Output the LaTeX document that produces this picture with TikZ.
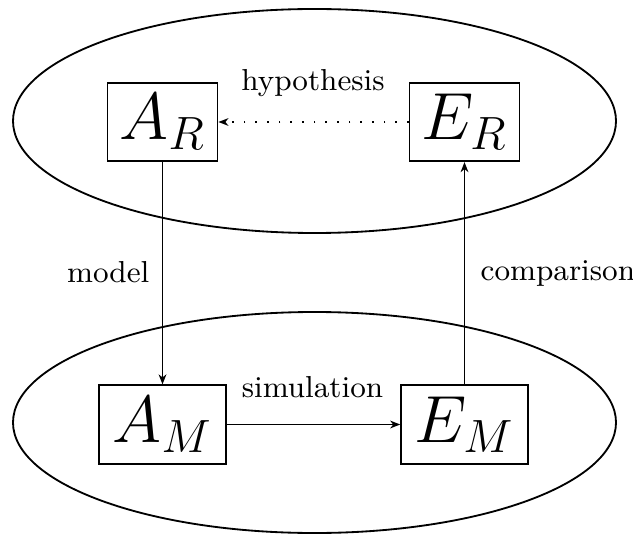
\documentclass[tikz,border=0pt]{standalone}
\usepackage{fix-cm}
\usetikzlibrary{shapes.geometric,arrows.meta}
\tikzset{
  region/.style={draw, ellipse, line width=0.55pt, inner sep=0pt, minimum width=180.9pt},
  quant/.style={draw, rectangle, line width=0.55pt, inner sep=0pt, minimum height=23.5pt,
    font=\fontsize{20}{24}\selectfont},
  narrow/.style={quant, minimum width=33pt},
  wide/.style={quant, minimum width=38pt},
  lbl/.style={font=\fontsize{9.1}{11}\selectfont, inner sep=0pt},
  link/.style={line width=0.5pt, -{Stealth[length=3pt,width=2.3pt,inset=0.9pt]}},
  hint/.style={link, dash pattern=on 0.5pt off 3pt}
}
\begin{document}
\begin{tikzpicture}[x=0.3pt,y=-0.3pt]
\useasboundingbox (0,0) rectangle (633,535);
\node[region, minimum height=67.2pt] (real) at (314.5,121) {};
\node[region, minimum height=66.3pt] (sim) at (314.5,422.5) {};
\node[narrow] (AR) at (162.5,122) {$A_R$};
\node[narrow] (ER) at (464.5,122) {$E_R$};
\node[wide] (AM) at (162.5,424.5) {$A_M$};
\node[wide] (EM) at (464.5,424.5) {$E_M$};
\draw[hint] (ER) -- (AR);
\draw[link] (AR) -- (AM);
\draw[link] (AM) -- (EM);
\draw[link] (EM) -- (ER);
\node[lbl, anchor=base] (lh) at (313,91) {hypothesis};
\node[lbl, anchor=base east] (lm) at (150,282) {model};
\node[lbl, anchor=base west] (lc) at (480,280) {comparison};
\node[lbl, anchor=base] (ls) at (312.5,397) {simulation};
\end{tikzpicture}
\end{document}
